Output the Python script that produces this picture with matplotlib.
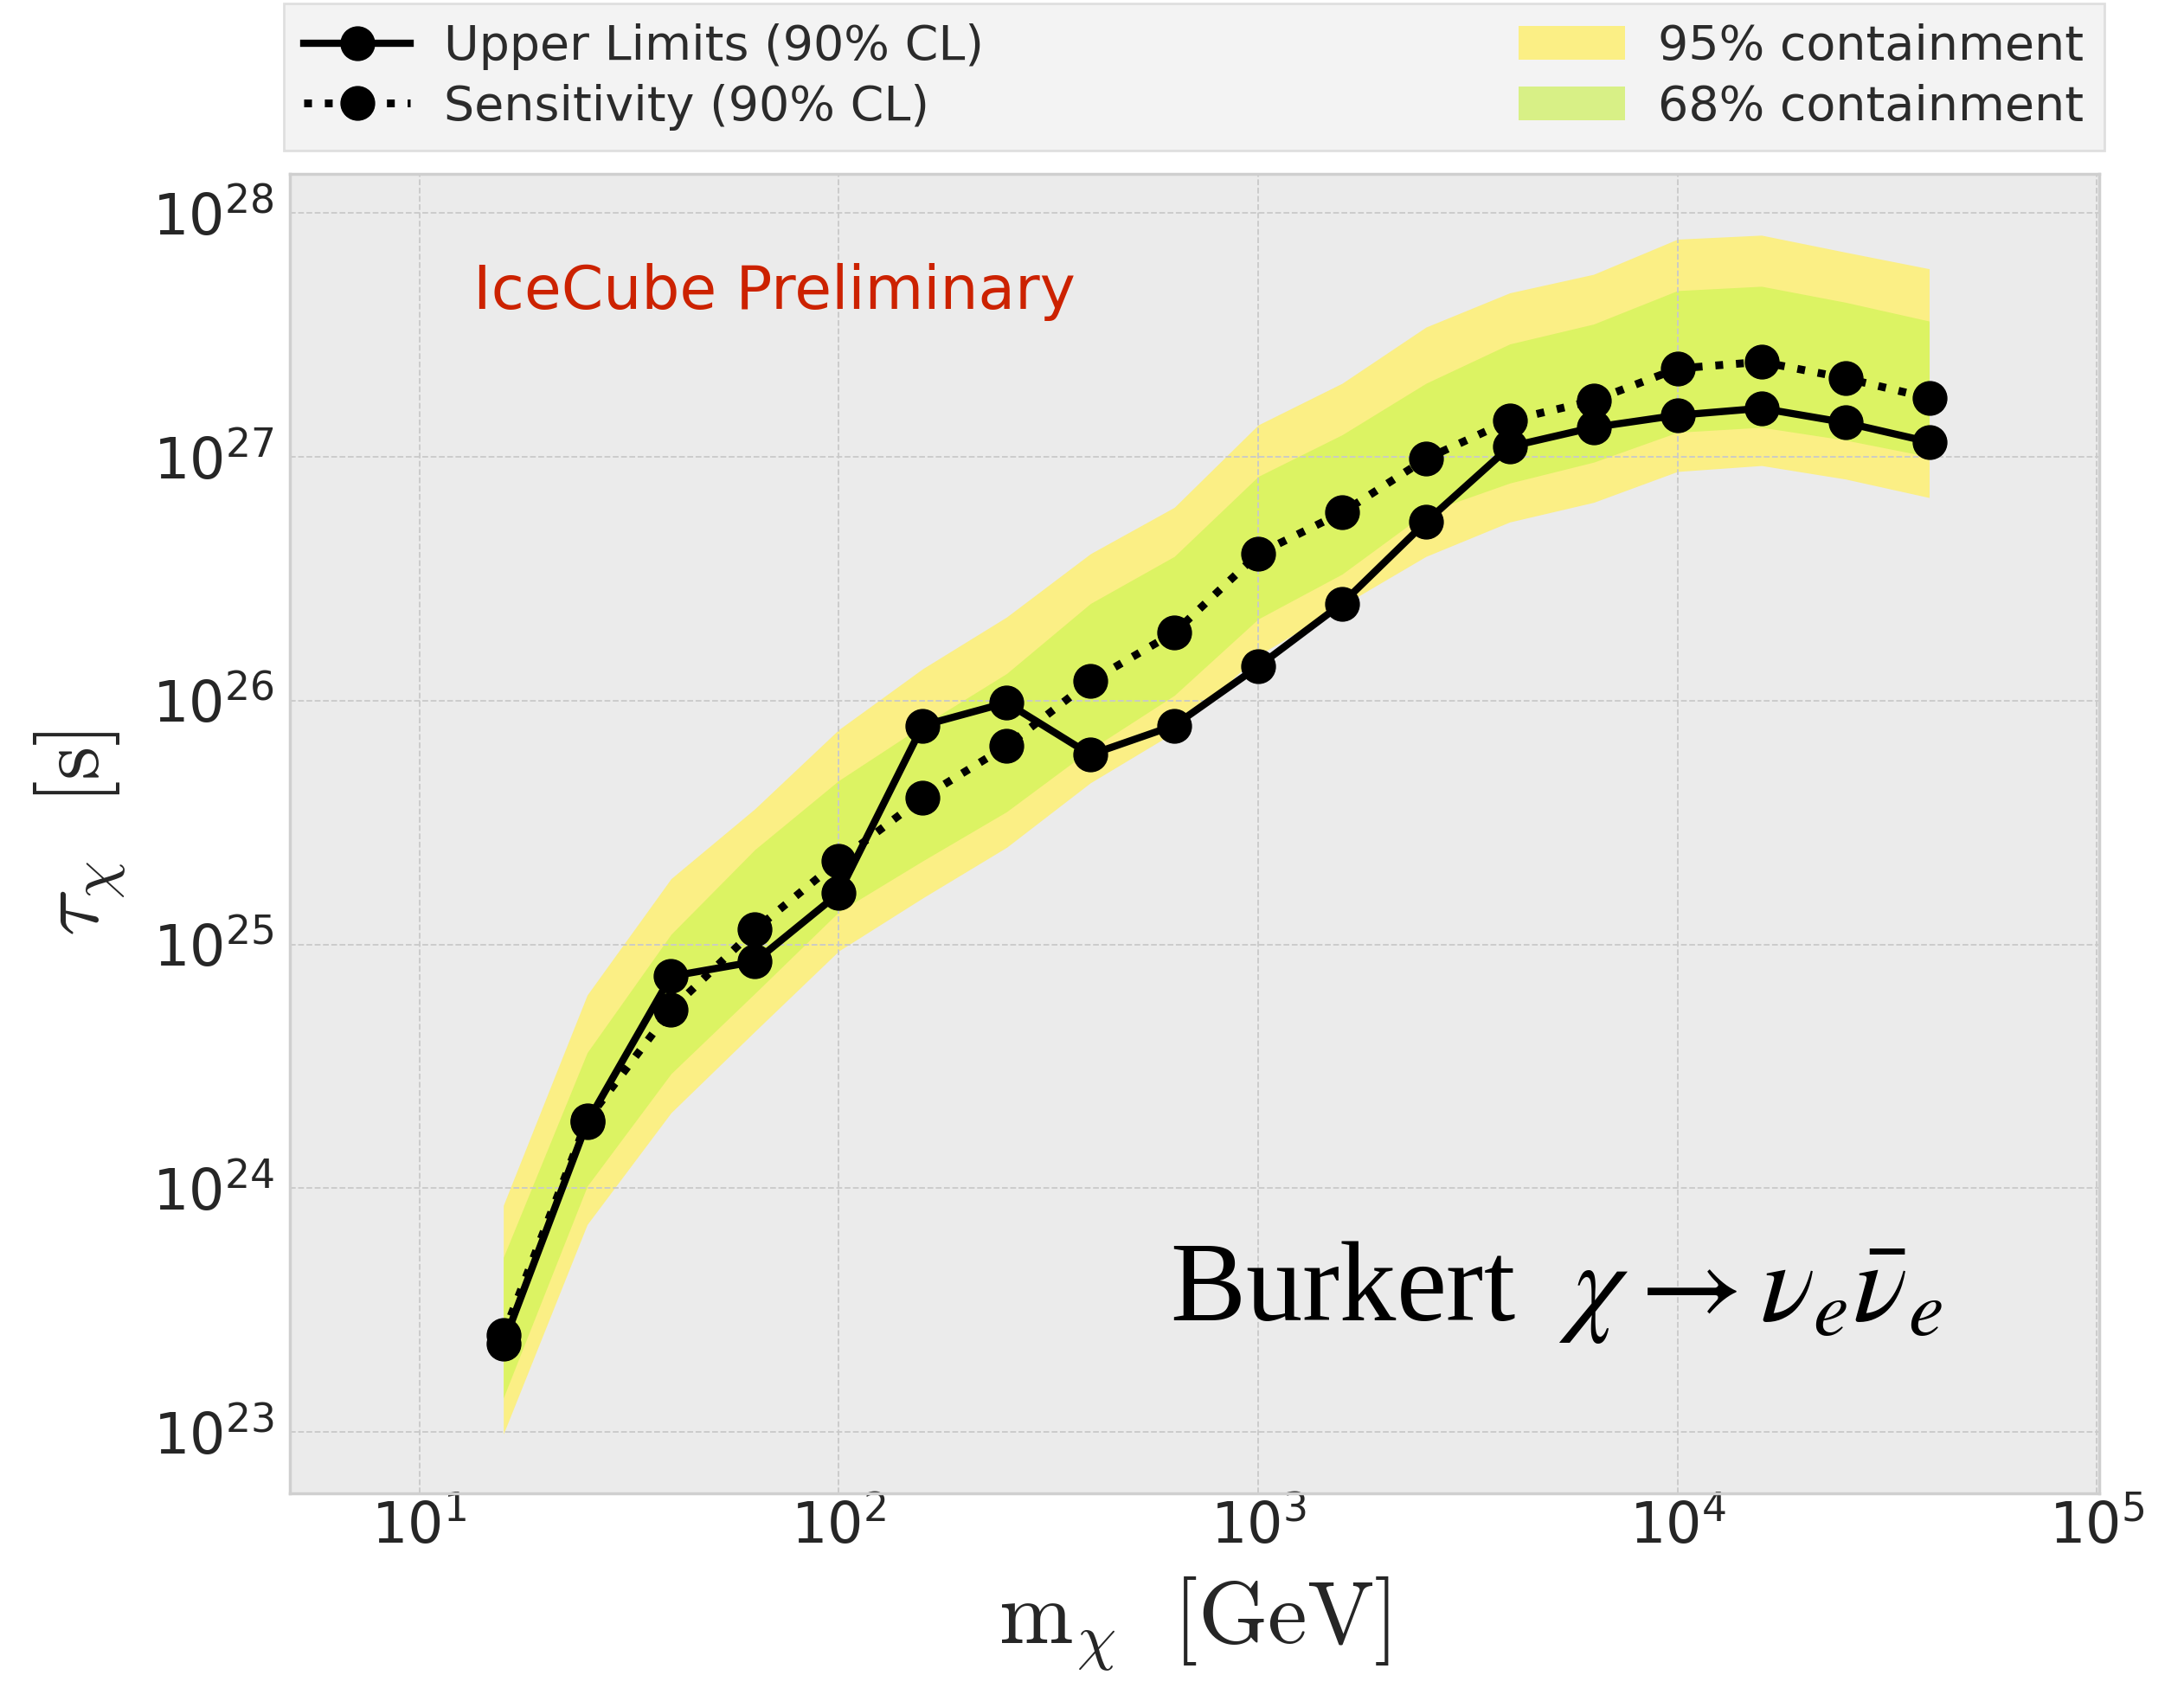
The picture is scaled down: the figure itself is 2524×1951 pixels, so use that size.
import matplotlib
matplotlib.use("Agg")
import matplotlib.pyplot as plt
from matplotlib.patches import Patch
import numpy as np

# ---------------- data ----------------
mass_gev = [15.85, 25.12, 39.81, 63.1, 100.0, 158.5, 251.2, 398.1, 631.0,
            1000.0, 1585.0, 2512.0, 3981.0, 6310.0, 10000.0, 15850.0, 25120.0, 39810.0]

upper_limits = [2.3e23, 1.86e24, 7.4e24, 8.5e24, 1.62e25, 7.9e25, 9.8e25, 6.0e25, 7.9e25,
                1.38e26, 2.5e26, 5.4e26, 1.10e27, 1.32e27, 1.48e27, 1.58e27, 1.38e27, 1.15e27]

sensitivity = [2.5e23, 1.9e24, 5.4e24, 1.15e25, 2.2e25, 4.0e25, 6.5e25, 1.2e26, 1.9e26,
               4.0e26, 5.9e26, 9.8e26, 1.41e27, 1.7e27, 2.3e27, 2.45e27, 2.1e27, 1.74e27]

band95_high = [8.5e23, 6.2e24, 1.86e25, 3.6e25, 7.6e25, 1.35e26, 2.2e26, 4.0e26, 6.2e26,
               1.35e27, 2.0e27, 3.4e27, 4.7e27, 5.6e27, 7.8e27, 8.1e27, 6.9e27, 5.9e27]
band95_low = [9.8e22, 7.1e23, 2.04e24, 4.4e24, 9.4e24, 1.55e25, 2.5e25, 4.6e25, 7.4e25,
              1.53e26, 2.45e26, 3.9e26, 5.4e26, 6.5e26, 8.7e26, 9.2e26, 8.1e26, 6.8e26]
band68_high = [5.2e23, 3.6e24, 1.1e25, 2.45e25, 4.7e25, 7.9e25, 1.29e26, 2.5e26, 3.9e26,
               8.3e26, 1.23e27, 2.0e27, 2.9e27, 3.5e27, 4.8e27, 5.0e27, 4.3e27, 3.6e27]
band68_low = [1.38e23, 1.02e24, 2.95e24, 6.3e24, 1.36e25, 2.2e25, 3.5e25, 6.3e25, 1.05e26,
              2.16e26, 3.3e26, 5.9e26, 7.8e26, 9.5e26, 1.26e27, 1.32e27, 1.17e27, 1.0e27]

labels = ["Upper Limits (90% CL)", "Sensitivity (90% CL)", "95% containment", "68% containment"]

# ---------------- figure ----------------
fig = plt.figure(figsize=(25.24, 19.51), dpi=100)
ax = fig.add_axes([0.1327, 0.1155, 0.8284, 0.7815])
ax.set_facecolor("#EBEBEB")

ax.fill_between(mass_gev, band95_low, band95_high, color="#FBEF85", lw=0, zorder=1)
ax.fill_between(mass_gev, band68_low, band68_high, color="#DCF363", lw=0, zorder=1.1)

ul, = ax.plot(mass_gev, upper_limits, "-", color="black", lw=6, marker="o", ms=28,
              label=labels[0], zorder=3)
se, = ax.plot(mass_gev, sensitivity, ":", color="black", lw=6.5, marker="o", ms=28,
              label=labels[1], zorder=3)

ax.set_xscale("log")
ax.set_yscale("log")
ax.set_xlim(10 ** 0.691, 10 ** 5.005)
ax.set_ylim(10 ** 22.75, 10 ** 28.16)
ax.minorticks_off()

ax.set_axisbelow("line")
ax.grid(True, which="major", ls="--", color="#C9C9C9", lw=1.3)

for s in ax.spines.values():
    s.set_color("#CFCFCF")
    s.set_linewidth(2.5)

ax.tick_params(axis="both", which="both", length=0, labelsize=47, colors="#262626")
ax.tick_params(axis="x", pad=5)
ax.tick_params(axis="y", pad=13)

ax.set_xlabel(r"$\mathrm{m}_\chi\ \ [\mathrm{GeV}]$", fontsize=74, color="#262626",
              math_fontfamily="cm")
ax.xaxis.set_label_coords(0.5, -0.062)
ax.set_ylabel(r"$\tau_\chi\ \ [\mathrm{s}]$", fontsize=72, color="#262626",
              math_fontfamily="cm")
ax.yaxis.set_label_coords(-0.09, 0.5)

ax.text(0.1016, 0.8976, "IceCube Preliminary", transform=ax.transAxes, fontsize=50,
        color="#CC2200", ha="left", va="baseline")
ax.text(0.4865, 0.131, r"Burkert  $\chi \rightarrow \nu_e\bar{\nu}_e$", transform=ax.transAxes,
        fontsize=94, family="Liberation Serif", math_fontfamily="stix", color="black",
        ha="left", va="baseline")

p95 = Patch(facecolor="#FBEF85", edgecolor="none")
p68 = Patch(facecolor="#D8F086", edgecolor="none")
leg = fig.legend(handles=[ul, se, p95, p68], labels=labels, ncol=2, mode="expand",
                 bbox_to_anchor=(0.130, 0.9108, 0.8335, 0.0877), loc="lower left",
                 fontsize=40, frameon=True, fancybox=False, numpoints=1,
                 handlelength=2.2, handletextpad=0.7, borderpad=0.42, labelspacing=0.28,
                 borderaxespad=0.0)
leg.get_frame().set_facecolor("#F1F1F1")
leg.get_frame().set_edgecolor("#D9D9D9")
leg.get_frame().set_linewidth(2)
for t in leg.get_texts():
    t.set_color("#2B2B2B")

fig.savefig("out.png", dpi=100)
